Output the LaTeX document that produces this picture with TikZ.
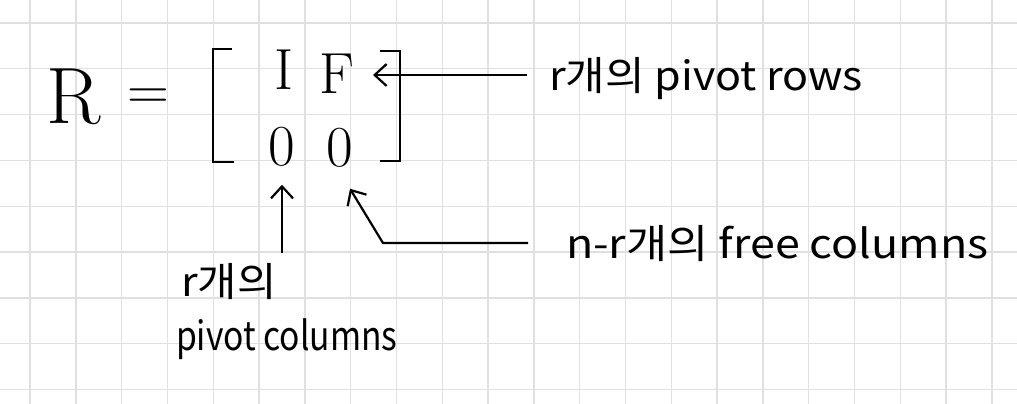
\documentclass[tikz,border=0pt]{standalone}
\usepackage{fontspec}
\newfontfamily\hangul{Noto Sans CJK KR}
\usetikzlibrary{arrows.meta,positioning}

\begin{document}
\begin{tikzpicture}[x=1pt, y=-1pt, line width=2.2pt, font=\hangul\fontsize{40}{42}\selectfont]
\tikzstyle{entry}=[inner sep=0pt, font=\normalfont\fontsize{58}{60}\selectfont]
\tikzstyle{note}=[inner sep=0pt, anchor=base west]
\tikzstyle{barb}=[-{Straight Barb[length=12pt, width=22pt]}]
\tikzstyle{gridline}=[line width=1.4pt, draw=black!12]
\fill[white] (0,0) rectangle (1017,404);
\useasboundingbox (0,0) rectangle (1017,404);
% grid paper
\foreach \i in {0,...,21} \draw[gridline] ({30+45.8*\i},0) -- ({30+45.8*\i},404);
\foreach \j in {0,...,8} \draw[gridline] (0,{23+45.8*\j}) -- (1017,{23+45.8*\j});
% R = [I F; 0 0]
\node[entry, font=\normalfont\fontsize{80}{80}\selectfont] (R) at (74,97) {R};
\node[entry] (eq) at (148,99) {=};
\node[entry] (I) at (284,70) {I};
\node[entry] (F) at (337,74) {F};
\node[entry] (zl) at (282,147) {0};
\node[entry] (zr) at (340,148) {0};
\draw (232,49) -- (213,49) -- (213,162) -- (234,162);
\draw (380,51) -- (400,51) -- (400,161) -- (380,161);
% labels
\node[note] (rows) at (548,90) {\scalebox{1.075}[1]{r개의 pivot rows}};
\node[note] (free) at (565,258) {\scalebox{1.12}[1]{n-r개의 free columns}};
\node[note] (cnt) at (180,296) {\scalebox{1.07}[1]{r개의}};
\node[note] (pcols) at (175,350) {\scalebox{0.84}[1]{pivot columns}};
\coordinate (rowtip) at (373,75);
\draw[barb] ([xshift=-21pt]rows.west |- rowtip) -- (rowtip);
\draw[barb] ([yshift=-85pt]zl.south) -- ([yshift=-17pt]zl.south);
\draw[barb] ([xshift=-37pt]free.west) -- ++(-145,0) -- ([xshift=10pt, yshift=-20pt]zr.south);
\end{tikzpicture}
\end{document}
